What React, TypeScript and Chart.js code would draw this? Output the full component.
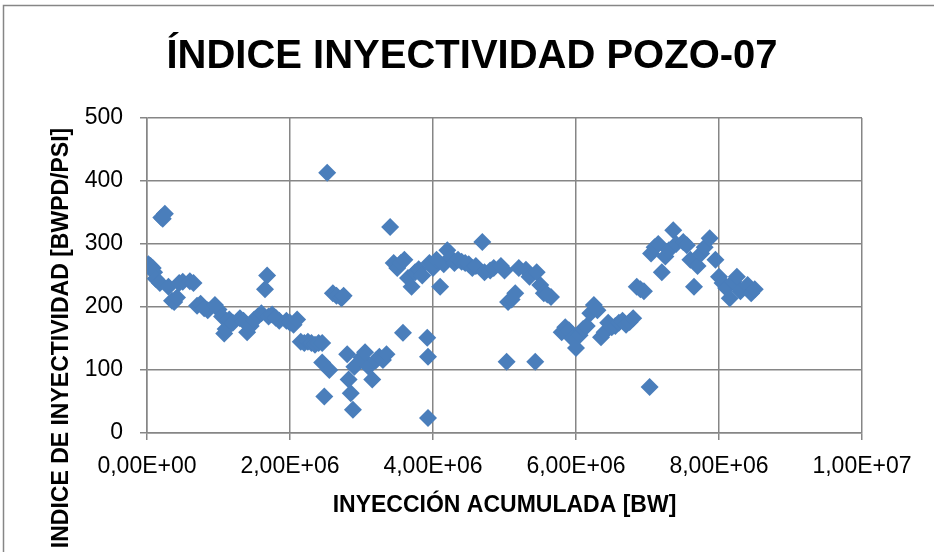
import React, { useEffect, useRef } from "react";
import { Chart, registerables } from "chart.js";

Chart.register(...registerables);

const chartTitle = "ÍNDICE INYECTIVIDAD POZO-07";
const xAxisTitle = "INYECCIÓN ACUMULADA [BW]";
const yAxisTitle = "INDICE DE INYECTIVIDAD [BWPD/PSI]";

// Injection cumulative (BW)
const xValues = [
  20000, 50000, 80000, 100000, 120000, 180000, 200000, 250000, 220000,
  300000, 350000, 380000, 420000, 450000, 500000, 600000, 650000,
  700000, 750000, 800000, 850000, 950000, 1000000, 1050000, 1080000, 1100000, 1150000, 1200000,
  1300000, 1350000, 1400000, 1450000, 1500000, 1550000, 1600000,
  1650000, 1680000, 1700000, 1750000, 1800000, 1850000,
  1950000, 2000000, 2050000, 2100000,
  2150000, 2200000, 2250000, 2300000, 2350000, 2400000, 2450000,
  2450000, 2480000, 2520000, 2550000, 2600000, 2650000, 2720000, 2750000,
  2800000, 2820000, 2850000, 2880000, 2900000, 3000000, 3050000, 3100000, 3150000, 3200000, 3250000, 3300000, 3350000,
  3400000, 3450000, 3500000, 3550000, 3600000, 3580000, 3650000, 3700000, 3750000, 3800000, 3850000,
  3920000, 3930000, 3930000, 3950000, 4000000, 4050000, 4100000, 4150000, 4200000, 4250000, 4300000, 4350000, 4400000, 4450000, 4500000, 4550000, 4600000,
  4690000, 4720000, 4800000, 4850000, 4950000, 5000000, 5030000, 5050000, 5100000, 5150000, 5200000, 5300000, 5350000, 5430000, 5450000, 5500000, 5550000, 5600000, 5650000,
  5800000, 5850000, 5900000, 5950000, 6000000, 6050000, 6100000, 6150000, 6200000, 6250000, 6300000, 6350000, 6400000, 6450000, 6500000, 6550000, 6600000, 6650000, 6700000, 6750000, 6800000,
  6850000, 6900000, 6950000, 7030000, 7050000, 7100000, 7150000, 7200000, 7250000, 7300000, 7360000, 7400000, 7500000, 7550000, 7600000, 7650000, 7700000, 7750000, 7800000, 7870000,
  7950000, 8000000, 8050000, 8100000, 8150000, 8200000, 8250000, 8300000, 8400000, 8450000, 8500000,
];

// Injectivity index (BWPD/PSI)
const yValues = [
  268, 265, 262, 255, 245, 238, 342, 348, 340,
  232, 210, 208, 215, 238, 240, 241, 238,
  202, 205, 198, 195, 203, 196, 185, 158, 165, 180, 175,
  182, 178, 160, 170, 180, 185, 190,
  228, 250, 185, 188, 183, 178,
  178, 175, 172, 180,
  145, 143, 145, 143, 140, 143, 143,
  112, 58, 413, 100, 222, 218, 214, 218,
  125, 85, 63, 37, 105, 120, 128, 105, 85, 115, 121, 116, 125,
  327, 270, 262, 270, 275, 159, 246, 232, 255, 260, 250,
  151, 121, 24, 270, 262, 275, 232, 268, 290, 278, 270, 275, 272, 270, 268, 262, 265,
  303, 255, 258, 262, 265, 258, 113, 208, 212, 222, 262, 259, 248, 113, 255, 235, 222, 220, 216,
  160, 168, 163, 150, 135, 155, 165, 170, 190, 203, 195, 152, 160, 175, 168, 170, 175, 178, 172, 176, 182,
  232, 228, 225, 73, 285, 295, 300, 255, 280, 290, 322, 300, 303, 298, 275, 232, 265, 285, 295, 309,
  275, 248, 238, 230, 214, 240, 248, 225, 235, 222, 228,
];

const yTicks = [0, 100, 200, 300, 400, 500];
const xTicks = [0, 2000000, 4000000, 6000000, 8000000, 10000000];

const BLUE = "#4A7EBB";
const GRID = "#868686";
const FONT = "'Liberation Sans', Arial, sans-serif";

function sci(v: number): string {
  if (v === 0) return "0,00E+00";
  const e = Math.floor(Math.log10(Math.abs(v)) + 1e-9);
  const m = v / Math.pow(10, e);
  const sign = e < 0 ? "-" : "+";
  const ee = String(Math.abs(e)).padStart(2, "0");
  return m.toFixed(2).replace(".", ",") + "E" + sign + ee;
}

export default function App() {
  const ref = useRef<HTMLCanvasElement | null>(null);

  useEffect(() => {
    document.body.style.margin = "0";
    const canvas = ref.current;
    if (!canvas) return;

    const framePlugin = {
      id: "frame",
      beforeDraw(chart: any) {
        const ctx = chart.ctx;
        ctx.save();
        ctx.fillStyle = "#ffffff";
        ctx.fillRect(0, 0, chart.width, chart.height);
        ctx.strokeStyle = GRID;
        ctx.lineWidth = 1.5;
        ctx.strokeRect(3.5, 5.5, chart.width + 20, chart.height + 20);
        ctx.restore();
      },
      afterDraw(chart: any) {
        const ctx = chart.ctx;
        ctx.save();
        ctx.translate(62, 338);
        ctx.rotate(-Math.PI / 2);
        ctx.font = `bold 23px ${FONT}`;
        ctx.fillStyle = "#000000";
        ctx.textAlign = "center";
        ctx.textBaseline = "middle";
        ctx.fillText(yAxisTitle, 0, 0);
        ctx.restore();
      },
    };

    const chart = new Chart(canvas, {
      type: "scatter",
      data: {
        datasets: [
          {
            label: "IIY",
            data: xValues.map((x, i) => ({ x, y: yValues[i] })),
            backgroundColor: BLUE,
            borderColor: BLUE,
            borderWidth: 0,
            pointStyle: "rectRot",
            pointRadius: 9,
            pointHoverRadius: 9,
          },
        ],
      },
      options: {
        responsive: false,
        animation: false,
        layout: { padding: { left: 10, right: 0, top: 0, bottom: 0 } },
        plugins: {
          legend: { display: false },
          tooltip: { enabled: false },
          title: {
            display: true,
            text: chartTitle,
            color: "#000000",
            font: { family: FONT, size: 40, weight: "bold", lineHeight: 1.2 },
            padding: { top: 33, bottom: 37 },
          },
        },
        scales: {
          x: {
            type: "linear",
            min: 0,
            max: 10000000,
            afterBuildTicks: (s: any) => {
              s.ticks = xTicks.map((v) => ({ value: v }));
            },
            afterFit: (s: any) => {
              s.height = 119;
            },
            ticks: {
              color: "#000000",
              font: { family: FONT, size: 23 },
              padding: 13,
              maxRotation: 0,
              callback: (v: any) => sci(Number(v)),
            },
            grid: { color: GRID, lineWidth: 1.5, tickLength: 7, tickColor: GRID },
            border: { color: GRID, width: 1.5 },
            title: {
              display: true,
              text: xAxisTitle,
              color: "#000000",
              font: { family: FONT, size: 23, weight: "bold", lineHeight: 1.2 },
              padding: { top: 0, bottom: 33 },
            },
          },
          y: {
            type: "linear",
            min: 0,
            max: 500,
            afterBuildTicks: (s: any) => {
              s.ticks = yTicks.map((v) => ({ value: v }));
            },
            afterFit: (s: any) => {
              s.width = 137;
            },
            ticks: {
              color: "#000000",
              font: { family: FONT, size: 23 },
              padding: 17,
            },
            grid: { color: GRID, lineWidth: 1.5, tickLength: 7, tickColor: GRID },
            border: { color: GRID, width: 1.5 },
          },
          spacer: {
            type: "linear",
            position: "right",
            display: true,
            afterFit: (s: any) => {
              s.width = 72;
            },
            ticks: { display: false },
            grid: { display: false, drawOnChartArea: false, drawTicks: false },
            border: { display: false },
          },
        },
      },
      plugins: [framePlugin],
    } as any);

    return () => chart.destroy();
  }, []);

  return (
    <div style={{ width: 934, height: 552 }}>
      <canvas ref={ref} width={934} height={552} style={{ display: "block", width: 934, height: 552 }} />
    </div>
  );
}
